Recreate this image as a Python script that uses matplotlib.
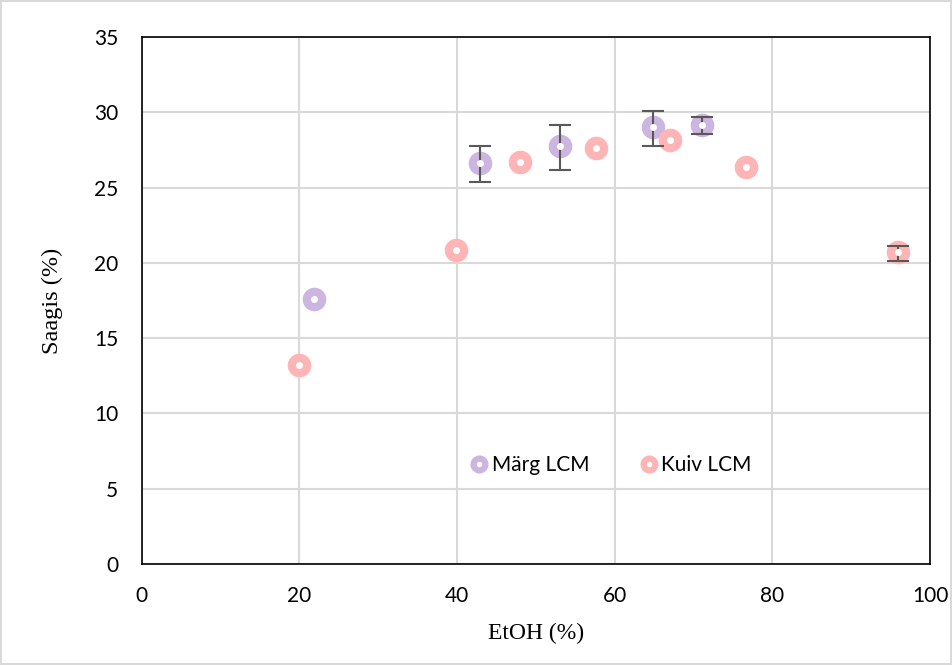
import numpy as np
import matplotlib.pyplot as plt
from matplotlib.lines import Line2D

# Märg LCM
marg_x = [21.8, 42.9, 53.0, 64.8, 71.1]
marg_y = [17.6, 26.65, 27.75, 29.05, 29.15]
marg_lo = [0.0, 1.25, 1.6, 1.25, 0.6]
marg_hi = [0.0, 1.1, 1.45, 1.05, 0.55]

# Kuiv LCM
kuiv_x = [19.9, 39.9, 48.0, 57.6, 67.0, 76.6, 95.9]
kuiv_y = [13.25, 20.85, 26.72, 27.65, 28.2, 26.35, 20.7]
kuiv_lo = [0.0, 0.0, 0.0, 0.0, 0.0, 0.0, 0.6]
kuiv_hi = [0.0, 0.0, 0.0, 0.0, 0.0, 0.0, 0.45]

purple = '#CCB5DE'
pink = '#FFB5B5'

fig = plt.figure(figsize=(9.52, 6.65), dpi=100)
fig.patch.set_edgecolor('#D9D9D9')
fig.patch.set_linewidth(1.5)
ax = fig.add_axes([0.149, 0.152, 0.828, 0.792])

# coloured discs, then error bars, then the white centres
disc = dict(linestyle='none', marker='o', markersize=17, markeredgewidth=0, zorder=2)
ax.plot(marg_x, marg_y, color=purple, **disc)
ax.plot(kuiv_x, kuiv_y, color=pink, **disc)

for xs, ys, lo, hi in [(marg_x, marg_y, marg_lo, marg_hi),
                       (kuiv_x, kuiv_y, kuiv_lo, kuiv_hi)]:
    xs, ys, lo, hi = map(np.array, (xs, ys, lo, hi))
    m = (lo > 0) | (hi > 0)   # skip points without error bars
    ax.errorbar(xs[m], ys[m], yerr=[lo[m], hi[m]], fmt='none',
                ecolor='#595959', elinewidth=1.5, capsize=8, capthick=1.5, zorder=3)

hole = dict(linestyle='none', marker='o', markersize=5, markeredgewidth=0,
            color='white', zorder=4)
ax.plot(marg_x, marg_y, **hole)
ax.plot(kuiv_x, kuiv_y, **hole)

ax.set_xlim(0, 100)
ax.set_ylim(0, 35)
ax.set_xticks(np.arange(0, 101, 20))
ax.set_yticks(np.arange(0, 36, 5))
ax.grid(True, color='#D9D9D9', linewidth=1.5)
ax.set_axisbelow(True)
ax.tick_params(length=0, labelsize=15)
ax.tick_params(axis='x', pad=16)
ax.tick_params(axis='y', pad=17)
for lab in ax.get_xticklabels() + ax.get_yticklabels():
    lab.set_family('Lato')
for sp in ax.spines.values():
    sp.set_color('black')
    sp.set_linewidth(1.2)

ax.set_xlabel('EtOH (%)', family='Liberation Serif', fontsize=17, labelpad=12)
ax.set_ylabel('Saagis (%)', family='Liberation Serif', fontsize=17.5, labelpad=22)

handles = [
    Line2D([], [], linestyle='none', marker='o', markerfacecolor='white',
           markeredgecolor=purple, markersize=8.5, markeredgewidth=4.5),
    Line2D([], [], linestyle='none', marker='o', markerfacecolor='white',
           markeredgecolor=pink, markersize=8.5, markeredgewidth=4.5),
]
leg = ax.legend(handles, ['Märg LCM', 'Kuiv LCM'], ncol=2, frameon=False,
                loc='center', bbox_to_anchor=(0.597, 0.188), handlelength=0.6,
                handletextpad=0.3, columnspacing=2.55,
                prop={'family': 'Lato', 'size': 15})

fig.savefig('out.png', dpi=100)
